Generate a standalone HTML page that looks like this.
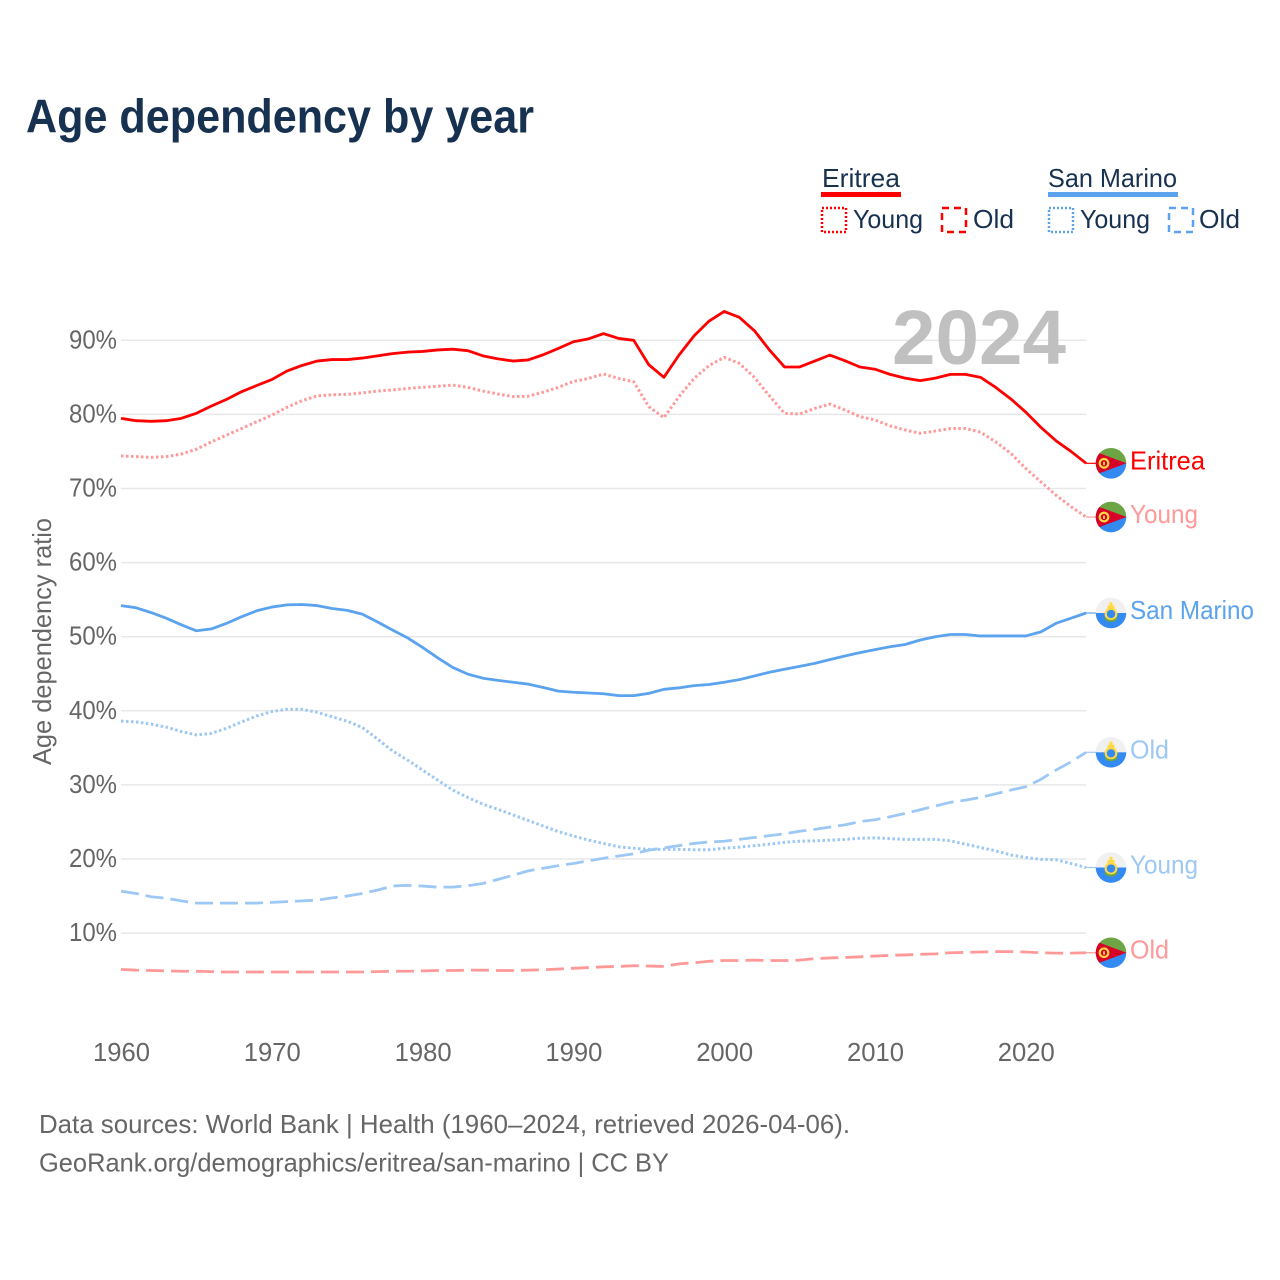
<!DOCTYPE html>
<html lang="en">
<head>
<meta charset="utf-8">
<title>Age dependency by year</title>
<style>
html,body{margin:0;padding:0;background:#fff;}
svg{display:block;}
text{font-family:"Liberation Sans",sans-serif;}
</style>
</head>
<body>
<svg id="chart" width="1280" height="1280" viewBox="0 0 1280 1280" xmlns="http://www.w3.org/2000/svg">
<defs>
<clipPath id="flag-clip"><circle cx="0" cy="0" r="15.3"/></clipPath>
<g id="flag-eritrea">
<g clip-path="url(#flag-clip)">
<rect x="-16" y="-16" width="32" height="16" fill="#6da544"/>
<rect x="-16" y="0" width="32" height="16" fill="#338af3"/>
<polygon points="-15.5,-11.5 15.5,0 -15.5,11.5" fill="#d80027"/>
<circle cx="-7" cy="0" r="4.3" fill="none" stroke="#ffda44" stroke-width="2.2"/>
<rect x="-7.9" y="-1.5" width="1.8" height="3.4" fill="#ffda44"/>
</g>
</g>
<g id="flag-san-marino">
<g clip-path="url(#flag-clip)">
<rect x="-16" y="-16" width="32" height="16" fill="#f0f0f0"/>
<rect x="-16" y="0" width="32" height="16" fill="#338af3"/>
<circle cx="0" cy="1" r="5.3" fill="#338af3" stroke="#ffda44" stroke-width="2.2"/>
<path d="M-6,5 A7.5,7.5 0 0 0 6,5" fill="none" stroke="#6da544" stroke-width="2"/>
<rect x="-3.5" y="-7.5" width="7" height="4.5" fill="#ffda44"/>
<rect x="-1.5" y="-10.7" width="3" height="3.4" fill="#ffda44"/>
</g>
</g>
</defs>
<rect x="0" y="0" width="1280" height="1280" fill="#ffffff"/>
<text x="26" y="132.5" font-size="47" font-weight="700" fill="#173150" textLength="508" lengthAdjust="spacingAndGlyphs">Age dependency by year</text>

<g id="grid"></g>

<text x="892" y="364" font-size="77" font-weight="700" fill="#bdbdbd" fill-opacity="0.95" textLength="174" lengthAdjust="spacingAndGlyphs">2024</text>

<g>
<text x="822" y="187" font-size="26" fill="#173150" textLength="78" lengthAdjust="spacingAndGlyphs">Eritrea</text>
<rect x="821" y="192" width="80" height="5" fill="#ff0000"/>
<rect x="822" y="208" width="24" height="24" fill="none" stroke="#ff0000" stroke-width="2.5" stroke-dasharray="2 2"/>
<text x="853" y="228" font-size="26" fill="#173150" textLength="70" lengthAdjust="spacingAndGlyphs">Young</text>
<rect x="942" y="208" width="24" height="24" fill="none" stroke="#ff0000" stroke-width="2.5" stroke-dasharray="7 5"/>
<text x="973" y="228" font-size="26" fill="#173150" textLength="41" lengthAdjust="spacingAndGlyphs">Old</text>
<text x="1048" y="187" font-size="26" fill="#173150" textLength="129" lengthAdjust="spacingAndGlyphs">San Marino</text>
<rect x="1048" y="192" width="130" height="5" fill="#5ba3ee"/>
<rect x="1049" y="208" width="24" height="24" fill="none" stroke="#5ba3ee" stroke-width="2.5" stroke-dasharray="2 2"/>
<text x="1080" y="228" font-size="26" fill="#173150" textLength="70" lengthAdjust="spacingAndGlyphs">Young</text>
<rect x="1169" y="208" width="24" height="24" fill="none" stroke="#5ba3ee" stroke-width="2.5" stroke-dasharray="7 5"/>
<text x="1199" y="228" font-size="26" fill="#173150" textLength="41" lengthAdjust="spacingAndGlyphs">Old</text>
</g>

<text transform="translate(51,765) rotate(-90)" x="0" y="0" font-size="26" fill="#666666" textLength="247" lengthAdjust="spacingAndGlyphs">Age dependency ratio</text>

<g id="y-ticks"></g>
<g id="x-ticks"></g>
<g id="series"></g>
<g id="end-labels"></g>

<text x="39" y="1133" font-size="26" fill="#666666" textLength="811" lengthAdjust="spacingAndGlyphs">Data sources: World Bank | Health (1960–2024, retrieved 2026-04-06).</text>
<text x="39" y="1171.5" font-size="26" fill="#666666" textLength="630" lengthAdjust="spacingAndGlyphs">GeoRank.org/demographics/eritrea/san-marino | CC BY</text>
</svg>

<script>
const firstYear = 1960;
const yTickValues = [10, 20, 30, 40, 50, 60, 70, 80, 90];
const xTickValues = [1960, 1970, 1980, 1990, 2000, 2010, 2020];

const eritreaTotal = [79.47,79.15,79.07,79.15,79.47,80.15,81.13,82.03,83.07,83.9,
84.7,85.85,86.6,87.2,87.4,87.4,87.6,87.9,88.2,88.4,
88.5,88.7,88.8,88.6,87.9,87.5,87.2,87.35,88.05,88.9,
89.8,90.2,90.9,90.25,90.0,86.7,85.0,88.0,90.6,92.6,
93.9,93.1,91.3,88.7,86.4,86.4,87.2,88.0,87.25,86.4,
86.1,85.4,84.9,84.55,84.9,85.4,85.4,85.0,83.65,82.1,
80.3,78.25,76.45,75.0,73.4];

const eritreaYoung = [74.4,74.3,74.2,74.3,74.65,75.3,76.3,77.2,78.1,79.0,
79.9,80.95,81.85,82.5,82.65,82.7,82.9,83.15,83.3,83.5,
83.65,83.8,83.95,83.65,83.15,82.75,82.4,82.45,83.0,83.65,
84.45,84.85,85.45,84.85,84.4,81.05,79.55,82.4,84.85,86.6,
87.7,86.9,85.0,82.5,80.15,80.05,80.8,81.4,80.6,79.7,
79.25,78.45,77.9,77.45,77.75,78.1,78.1,77.6,76.3,74.75,
72.7,70.9,69.1,67.55,66.15];

const eritreaOld = [5.1,5.0,4.95,4.9,4.85,4.85,4.8,4.75,4.75,4.75,
4.75,4.75,4.75,4.75,4.75,4.75,4.75,4.8,4.85,4.85,
4.9,4.95,4.95,5.0,5.0,4.95,4.95,5.0,5.05,5.15,
5.25,5.35,5.45,5.5,5.6,5.55,5.5,5.85,6.0,6.2,
6.3,6.3,6.35,6.3,6.3,6.35,6.55,6.65,6.7,6.8,
6.9,7.0,7.05,7.15,7.2,7.35,7.4,7.45,7.5,7.5,
7.45,7.35,7.3,7.3,7.35];

const sanMarinoTotal = [54.2,53.9,53.25,52.5,51.6,50.8,51.05,51.8,52.7,53.5,
54.0,54.3,54.35,54.2,53.8,53.55,53.05,52.0,50.9,49.85,
48.55,47.15,45.85,44.95,44.4,44.1,43.85,43.6,43.15,42.65,
42.5,42.4,42.3,42.05,42.05,42.35,42.9,43.1,43.4,43.55,
43.85,44.2,44.7,45.2,45.6,46.0,46.4,46.9,47.4,47.85,
48.25,48.65,48.95,49.55,50.0,50.3,50.3,50.1,50.1,50.1,
50.1,50.65,51.8,52.5,53.2];

const sanMarinoYoung = [38.6,38.5,38.2,37.8,37.2,36.75,36.95,37.65,38.5,39.3,
39.9,40.2,40.2,39.8,39.2,38.6,37.75,36.2,34.6,33.35,
32.0,30.65,29.3,28.3,27.4,26.7,25.95,25.2,24.45,23.7,
23.1,22.55,22.1,21.65,21.45,21.3,21.3,21.3,21.25,21.25,
21.45,21.6,21.8,22.0,22.25,22.4,22.45,22.55,22.65,22.8,
22.85,22.75,22.65,22.65,22.65,22.45,22.0,21.55,21.1,20.55,
20.2,19.95,19.9,19.4,18.85];

const sanMarinoOld = [15.65,15.35,14.9,14.7,14.35,14.05,14.05,14.05,14.05,14.05,
14.15,14.25,14.35,14.45,14.75,15.0,15.35,15.8,16.35,16.45,
16.35,16.2,16.2,16.4,16.7,17.25,17.8,18.4,18.75,19.1,
19.4,19.75,20.1,20.4,20.7,21.2,21.5,21.8,22.1,22.3,
22.4,22.65,22.9,23.15,23.4,23.75,24.0,24.3,24.6,25.05,
25.3,25.7,26.15,26.65,27.15,27.65,27.95,28.3,28.8,29.3,
29.75,30.75,32.0,33.1,34.4];

const SVG_NS = 'http://www.w3.org/2000/svg';
const xScale = function (year) { return 121 + (year - firstYear) * 15.08; };
const yScale = function (value) { return 1007.2 - value * 7.41; };
const make = function (tag, parent) {
  const el = document.createElementNS(SVG_NS, tag);
  parent.appendChild(el);
  return el;
};

const gridGroup = document.getElementById('grid');
const yTickGroup = document.getElementById('y-ticks');
yTickValues.forEach(function (tick) {
  const line = make('line', gridGroup);
  
  
  line.setAttribute('x1', xScale(firstYear));
  line.setAttribute('x2', xScale(2024));
  line.setAttribute('y1', yScale(tick));
  line.setAttribute('y2', yScale(tick));
  line.setAttribute('stroke', '#e8e8e8');
  line.setAttribute('stroke-width', '1.5');
  const label = make('text', yTickGroup);
  
  
  label.setAttribute('x', 69);
  label.setAttribute('y', yScale(tick) + 8);
  label.setAttribute('font-size', '26');
  label.setAttribute('fill', '#666666');
  label.setAttribute('textLength', '48');
  label.setAttribute('lengthAdjust', 'spacingAndGlyphs');
  label.textContent = tick + '%';
});

const xTickGroup = document.getElementById('x-ticks');
xTickValues.forEach(function (tick) {
  const label = make('text', xTickGroup);
  
  
  label.setAttribute('x', xScale(tick) - 28);
  label.setAttribute('y', 1061);
  label.setAttribute('font-size', '26');
  label.setAttribute('fill', '#666666');
  label.setAttribute('textLength', '57');
  label.setAttribute('lengthAdjust', 'spacingAndGlyphs');
  label.textContent = String(tick);
});

const seriesGroup = document.getElementById('series');
const labelGroup = document.getElementById('end-labels');
const drawSeries = function (name, values, color, width, dash, text, textWidth, flagId) {
  const points = values.map(function (v, i) {
    return xScale(firstYear + i).toFixed(2) + ',' + yScale(v).toFixed(2);
  }).join(' ');
  const lastY = yScale(values[values.length - 1]);

  const path = make('polyline', seriesGroup);
  
  
  path.setAttribute('points', points);
  path.setAttribute('fill', 'none');
  path.setAttribute('stroke', color);
  path.setAttribute('stroke-width', width);
  path.setAttribute('stroke-linejoin', 'round');
  if (dash) { path.setAttribute('stroke-dasharray', dash); }

  const leader = make('line', labelGroup);
  
  
  leader.setAttribute('x1', xScale(2024));
  leader.setAttribute('x2', 1097);
  leader.setAttribute('y1', lastY);
  leader.setAttribute('y2', lastY);
  leader.setAttribute('stroke', color);
  leader.setAttribute('stroke-width', '1.2');

  const flag = make('use', labelGroup);
  
  
  flag.setAttribute('href', flagId);
  flag.setAttribute('transform', 'translate(1111,' + lastY.toFixed(2) + ')');

  const label = make('text', labelGroup);
  
  
  label.setAttribute('x', 1130);
  label.setAttribute('y', lastY + 6);
  label.setAttribute('font-size', '26');
  label.setAttribute('fill', color);
  label.setAttribute('textLength', textWidth);
  label.setAttribute('lengthAdjust', 'spacingAndGlyphs');
  label.textContent = text;
};

drawSeries('eritrea-old', eritreaOld, '#ff9999', 2.8, '18 7', 'Old', 39, '#flag-eritrea');
drawSeries('san-marino-old', sanMarinoOld, '#9dc8f4', 2.8, '18 7', 'Old', 39, '#flag-san-marino');
drawSeries('san-marino-young', sanMarinoYoung, '#9dc8f4', 3, '2.5 2.5', 'Young', 68, '#flag-san-marino');
drawSeries('eritrea-young', eritreaYoung, '#ff9999', 3, '2.5 2.5', 'Young', 68, '#flag-eritrea');
drawSeries('san-marino-total', sanMarinoTotal, '#5ba3ee', 2.8, '', 'San Marino', 124, '#flag-san-marino');
drawSeries('eritrea-total', eritreaTotal, '#ff0000', 2.8, '', 'Eritrea', 75, '#flag-eritrea');
</script>
</body>
</html>
